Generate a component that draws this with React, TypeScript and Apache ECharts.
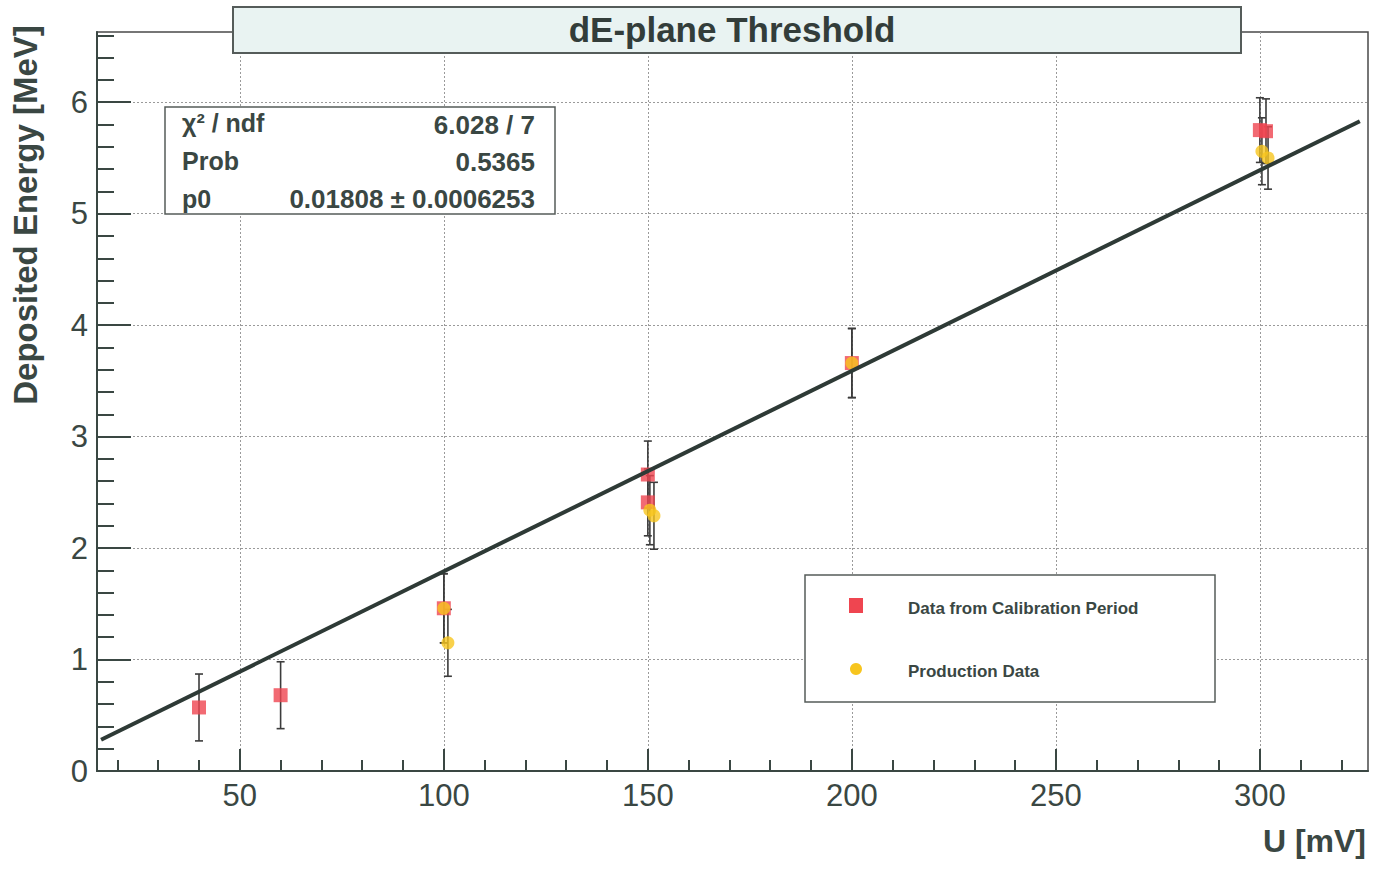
import React, { useEffect, useRef } from "react";
import * as echarts from "echarts";

// ---- data ----
const calX = [40, 60, 100, 150, 150, 200, 300, 301.5];
const calY = [0.57, 0.68, 1.46, 2.66, 2.41, 3.66, 5.75, 5.74];
const calErr = [0.3, 0.3, 0.31, 0.3, 0.3, 0.31, 0.29, 0.29];

const prodX = [100, 101, 150.5, 151.5, 200, 300.5, 302];
const prodY = [1.46, 1.15, 2.34, 2.29, 3.66, 5.56, 5.5];
const prodErr = [0.31, 0.3, 0.31, 0.3, 0.31, 0.3, 0.28];

const fitX = [16, 324.5];
const fitY = [0.28, 5.83];

const xMajor = [50, 100, 150, 200, 250, 300];
const xMinor = [20, 30, 40, 60, 70, 80, 90, 110, 120, 130, 140, 160, 170, 180, 190, 210, 220, 230, 240, 260, 270, 280, 290, 310, 320];
const yMajor = [0, 1, 2, 3, 4, 5, 6];
const yMinor = [0.2, 0.4, 0.6, 0.8, 1.2, 1.4, 1.6, 1.8, 2.2, 2.4, 2.6, 2.8, 3.2, 3.4, 3.6, 3.8, 4.2, 4.4, 4.6, 4.8, 5.2, 5.4, 5.6, 5.8, 6.2, 6.4, 6.6];

const statLabels = ["χ² / ndf", "Prob", "p0"];
const statValues = ["6.028 / 7", "0.5365", "0.01808 ± 0.0006253"];

const X_MIN = 15;
const X_MAX = 326.5;
const Y_MIN = 0;
const Y_MAX = 6.63;

const INK = "#3a4743";
const FONT = "'Liberation Sans', Arial, sans-serif";

export default function App() {
  const ref = useRef<HTMLDivElement>(null);

  useEffect(() => {
    if (!ref.current) return;
    const chart = echarts.init(ref.current, undefined, { renderer: "svg" });

    const errData = (xs: number[], ys: number[], es: number[]) =>
      xs.map((x, i) => [x, ys[i] - es[i], ys[i] + es[i]]);

    const renderErr = (params: any, api: any) => {
      const x = api.value(0);
      const lo = api.coord([x, api.value(1)]);
      const hi = api.coord([x, api.value(2)]);
      const style = { stroke: "#3c3c3c", lineWidth: 1.6 };
      return {
        type: "group",
        children: [
          { type: "line", shape: { x1: lo[0], y1: lo[1], x2: hi[0], y2: hi[1] }, style },
          { type: "line", shape: { x1: lo[0] - 4, y1: lo[1], x2: lo[0] + 4, y2: lo[1] }, style },
          { type: "line", shape: { x1: hi[0] - 4, y1: hi[1], x2: hi[0] + 4, y2: hi[1] }, style },
        ],
      };
    };

    const statTexts: any[] = [];
    statLabels.forEach((t, i) => {
      statTexts.push({
        type: "text",
        x: 182,
        y: 123 + i * 38,
        z: 101,
        style: { text: t, font: `bold 25px ${FONT}`, fill: INK, textAlign: "left", textVerticalAlign: "middle" },
      });
      statTexts.push({
        type: "text",
        x: 535,
        y: 125 + i * 37,
        z: 101,
        style: { text: statValues[i], font: `bold 26px ${FONT}`, fill: INK, textAlign: "right", textVerticalAlign: "middle" },
      });
    });

    const option: any = {
      animation: false,
      backgroundColor: "#ffffff",
      grid: {
        left: 97,
        right: 5,
        top: 32,
        bottom: 101,
        show: true,
        borderColor: "#4a4a4a",
        borderWidth: 1.5,
        backgroundColor: "transparent",
      },
      xAxis: [
        {
          type: "value",
          min: X_MIN,
          max: X_MAX,
          axisLine: { show: true, onZero: false, lineStyle: { color: INK, width: 2 } },
          axisTick: { show: true, inside: true, length: 22, customValues: xMajor, lineStyle: { color: INK, width: 2 } },
          axisLabel: { customValues: xMajor, color: INK, fontSize: 31, fontFamily: FONT, margin: 9 },
          splitLine: { show: true, lineStyle: { color: "#9a9a9a", type: [2, 2], width: 1 } },
        },
        {
          type: "value",
          min: X_MIN,
          max: X_MAX,
          position: "bottom",
          axisLine: { show: false, onZero: false },
          axisTick: { show: true, inside: true, length: 11, customValues: xMinor, lineStyle: { color: INK, width: 2 } },
          axisLabel: { show: false },
          splitLine: { show: false },
        },
      ],
      yAxis: [
        {
          type: "value",
          min: Y_MIN,
          max: Y_MAX,
          axisLine: { show: true, onZero: false, lineStyle: { color: INK, width: 2 } },
          axisTick: { show: true, inside: true, length: 34, customValues: yMajor, lineStyle: { color: INK, width: 2 } },
          axisLabel: { customValues: yMajor, color: INK, fontSize: 31, fontFamily: FONT, margin: 9 },
          splitLine: { show: true, lineStyle: { color: "#9a9a9a", type: [2, 2], width: 1 } },
        },
        {
          type: "value",
          min: Y_MIN,
          max: Y_MAX,
          position: "left",
          axisLine: { show: false, onZero: false },
          axisTick: { show: true, inside: true, length: 17, customValues: yMinor, lineStyle: { color: INK, width: 2 } },
          axisLabel: { show: false },
          splitLine: { show: false },
        },
      ],
      series: [
        {
          type: "custom",
          name: "calErr",
          xAxisIndex: 0,
          yAxisIndex: 0,
          renderItem: renderErr,
          encode: { x: 0, y: [1, 2] },
          data: errData(calX, calY, calErr),
          z: 2,
        },
        {
          type: "custom",
          name: "prodErr",
          xAxisIndex: 0,
          yAxisIndex: 0,
          renderItem: renderErr,
          encode: { x: 0, y: [1, 2] },
          data: errData(prodX, prodY, prodErr),
          z: 2,
        },
        {
          type: "scatter",
          name: "Data from Calibration Period",
          xAxisIndex: 0,
          yAxisIndex: 0,
          symbol: "rect",
          symbolSize: 14,
          itemStyle: { color: "#ef4550" },
          data: calX.map((x, i) => [x, calY[i]]),
          z: 3,
        },
        {
          type: "scatter",
          name: "Production Data",
          xAxisIndex: 0,
          yAxisIndex: 0,
          symbol: "circle",
          symbolSize: 13,
          itemStyle: { color: "#f7c51e" },
          data: prodX.map((x, i) => [x, prodY[i]]),
          z: 4,
        },
        {
          type: "line",
          name: "fit",
          xAxisIndex: 0,
          yAxisIndex: 0,
          symbol: "none",
          lineStyle: { color: "#2e3a36", width: 4 },
          data: fitX.map((x, i) => [x, fitY[i]]),
          z: 5,
        },
      ],
      graphic: [
        // title box
        {
          type: "rect",
          shape: { x: 233, y: 7, width: 1008, height: 46 },
          style: { fill: "#e9f3f2", stroke: "#555c5a", lineWidth: 2 },
          z: 100,
        },
        {
          type: "text",
          x: 732,
          y: 29,
          style: { text: "dE-plane Threshold", font: `bold 35px ${FONT}`, fill: "#333d3a", textAlign: "center", textVerticalAlign: "middle" },
          z: 101,
        },
        // stats box
        {
          type: "rect",
          shape: { x: 165, y: 107, width: 390, height: 107 },
          style: { fill: "#ffffff", stroke: "#555c5a", lineWidth: 1.5 },
          z: 100,
        },
        ...statTexts,
        // legend box
        {
          type: "rect",
          shape: { x: 805, y: 575, width: 410, height: 127 },
          style: { fill: "#ffffff", stroke: "#555c5a", lineWidth: 1.5 },
          z: 100,
        },
        {
          type: "rect",
          shape: { x: 849, y: 598, width: 14, height: 15 },
          style: { fill: "#ef4550" },
          z: 101,
        },
        {
          type: "circle",
          shape: { cx: 856, cy: 669, r: 6 },
          style: { fill: "#f7c51e" },
          z: 101,
        },
        {
          type: "text",
          x: 908,
          y: 608,
          style: { text: "Data from Calibration Period", font: `bold 17px ${FONT}`, fill: INK, textAlign: "left", textVerticalAlign: "middle" },
          z: 101,
        },
        {
          type: "text",
          x: 908,
          y: 671,
          style: { text: "Production Data", font: `bold 17px ${FONT}`, fill: INK, textAlign: "left", textVerticalAlign: "middle" },
          z: 101,
        },
        // axis titles
        {
          type: "text",
          x: 25,
          y: 215,
          rotation: Math.PI / 2,
          style: { text: "Deposited Energy [MeV]", font: `bold 33px ${FONT}`, fill: INK, textAlign: "center", textVerticalAlign: "middle" },
          z: 101,
        },
        {
          type: "text",
          x: 1366,
          y: 841,
          style: { text: "U [mV]", font: `bold 32px ${FONT}`, fill: INK, textAlign: "right", textVerticalAlign: "middle" },
          z: 101,
        },
      ],
    };

    chart.setOption(option);
    return () => chart.dispose();
  }, []);

  return <div ref={ref} style={{ position: "absolute", left: 0, top: 0, width: 1373, height: 872 }} />;
}
